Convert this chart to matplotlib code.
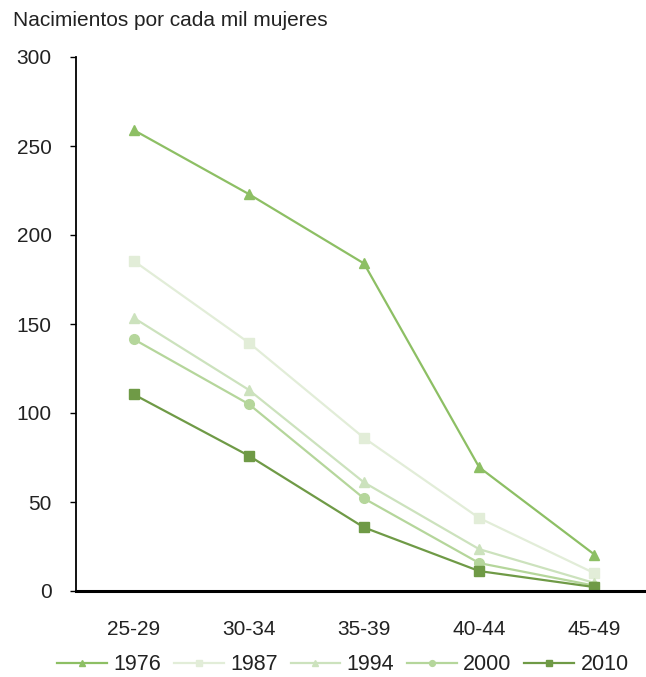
import matplotlib.pyplot as plt

plt.rcParams['font.family'] = ['Liberation Sans', 'DejaVu Sans']

# data
grupos = ['25-29', '30-34', '35-39', '40-44', '45-49']
anios = ['1976', '1987', '1994', '2000', '2010']
tasa_1976 = [259, 223, 184, 69.5, 20.5]
tasa_1987 = [185.5, 139.5, 86, 41, 10]
tasa_1994 = [153.5, 113, 61, 23.5, 4.5]
tasa_2000 = [141.5, 105, 52, 15.7, 3]
tasa_2010 = [110.5, 76, 35.7, 11.2, 2.2]

series = [tasa_1976, tasa_1987, tasa_1994, tasa_2000, tasa_2010]
colores = ['#8dbf64', '#e2edd8', '#cce2bd', '#b5d69b', '#6f9a46']
marcas = ['^', 's', '^', 'o', 's']

fs = 15

fig = plt.figure(figsize=(6.46, 6.77), dpi=100)
ax = fig.add_axes([76 / 646, 86 / 677, 576 / 646, 534 / 677])

x = range(len(grupos))
for vals, anio, c, m in zip(series, anios, colores, marcas):
    ax.plot(x, vals, color=c, marker=m, markersize=7, linewidth=1.6, label=anio)

ax.set_xlim(-0.5, 4.5)
ax.set_ylim(0, 300)
ax.set_yticks(range(0, 301, 50))
ax.set_xticks(list(x))
ax.set_xticklabels(grupos)
ax.tick_params(axis='y', labelsize=fs, length=4.5, width=1, pad=13, labelcolor='#222222')
ax.tick_params(axis='x', labelsize=fs, length=0, pad=21, labelcolor='#222222')
for s in ['top', 'right']:
    ax.spines[s].set_visible(False)
ax.spines['left'].set_linewidth(1.3)
ax.spines['bottom'].set_linewidth(2.2)

fig.text(13 / 646, 1 - 20 / 677, 'Nacimientos por cada mil mujeres', fontsize=fs,
         va='center', ha='left', color='#222222')

fig.legend(loc='center', bbox_to_anchor=(343 / 646, 1 - 665 / 677), ncol=5, frameon=False,
           fontsize=15.5, handlelength=2.3, columnspacing=0.6, handletextpad=0.3,
           markerscale=0.6, labelcolor='#222222')

fig.savefig('out.png', dpi=100)
